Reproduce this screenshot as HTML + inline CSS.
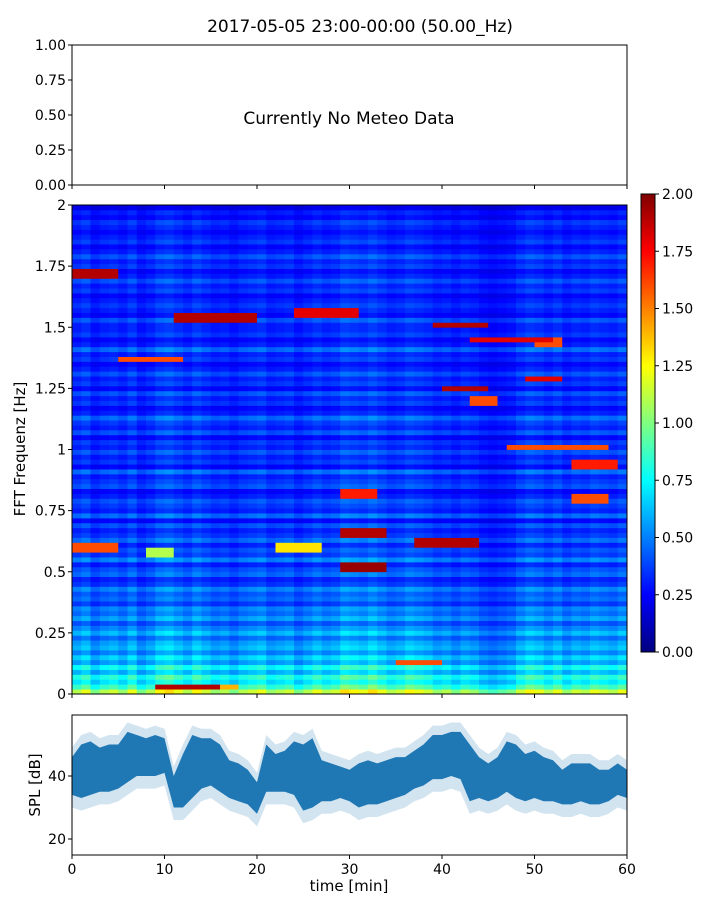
<!DOCTYPE html>
<html><head><meta charset="utf-8"><style>
body{margin:0;background:#fff;}
svg{display:block;font-family:"DejaVu Sans","Liberation Sans",sans-serif;}
</style></head><body>
<svg id="fig" width="720" height="900" viewBox="0 0 720 900">
<text x="360" y="32" font-size="17" text-anchor="middle">2017-05-05 23:00-00:00 (50.00_Hz)</text>
<g id="topG"></g>
<g id="spec"></g>
<g id="cbar"></g>
<g id="spl"></g>
</svg>
<script>
// ---- data ----
const timeTicks = [0,10,20,30,40,50,60];
const meteoTicks = ["0.00","0.25","0.50","0.75","1.00"];
const freqTicks = [0,0.25,0.5,0.75,1,1.25,1.5,1.75,2];
const freqTickLabels = ["0","0.25","0.5","0.75","1","1.25","1.5","1.75","2"];
const cbarTicks = ["0.00","0.25","0.50","0.75","1.00","1.25","1.50","1.75","2.00"];
const splTicks = [20,40];
// per-frequency-row level (0.02 Hz rows, bottom to top)
const rowLevel = [1.1,0.85,0.7,0.8,0.6,0.75,0.55,0.65,0.5,0.6,0.55,0.45,0.6,0.5,0.4,0.55,0.45,0.5,0.35,0.45,
0.4,0.5,0.35,0.3,0.45,0.4,0.3,0.5,0.35,0.4,0.3,0.45,0.35,0.3,0.4,0.25,0.45,0.3,0.35,0.4,
0.3,0.25,0.4,0.35,0.3,0.45,0.25,0.35,0.3,0.4,0.3,0.35,0.25,0.4,0.3,0.35,0.45,0.3,0.25,0.35,
0.3,0.4,0.25,0.35,0.3,0.4,0.3,0.25,0.35,0.3,0.45,0.3,0.25,0.35,0.3,0.3,0.4,0.25,0.3,0.35,
0.3,0.25,0.35,0.3,0.4,0.3,0.25,0.35,0.3,0.4,0.3,0.25,0.35,0.3,0.25,0.3,0.35,0.25,0.3,0.2];
// per-minute column level
const colLevel = [1.0,1.1,0.9,1.0,1.05,0.95,1.1,0.9,1.0,1.15,1.2,1.1,1.0,1.15,1.05,0.95,1.0,0.9,1.0,1.05,
1.1,0.95,1.0,1.05,0.9,1.0,1.1,1.0,1.05,1.2,1.15,1.1,1.2,1.1,1.0,1.05,1.15,1.1,1.05,0.95,
1.0,0.9,1.0,0.95,0.85,0.8,0.85,0.9,1.05,1.15,1.1,1.0,1.1,0.95,1.05,1.0,1.1,1.05,1.0,1.1];
// hotspots: start min, end min, freq Hz, value
const hotT0 = [0,11,24,39,43,50,40,43,49,37,29,29,0,8,9,35,54,47,29,5,54,22,15];
const hotT1 = [5,20,31,45,52,53,45,46,53,44,34,34,5,11,16,40,59,58,33,12,58,27,18];
const hotF  = [1.72,1.54,1.56,1.51,1.45,1.44,1.25,1.2,1.29,0.62,0.66,0.52,0.6,0.58,0.03,0.13,0.94,1.01,0.82,1.37,0.8,0.6,0.03];
const hotV  = [1.9,1.9,1.8,1.9,1.8,1.6,1.9,1.6,1.8,1.9,1.9,1.95,1.6,1.1,1.9,1.6,1.7,1.6,1.7,1.6,1.6,1.3,1.4];
// SPL dense envelope per minute (dB)
const splHi = [46,50,51,49,50,50,54,53,52,53,52,40,47,53,52,52,50,45,44,42,38,50,47,48,51,50,52,45,44,43,42,44,45,44,45,46,46,48,50,53,53,54,54,50,46,44,46,51,50,47,48,46,45,42,44,44,44,42,42,44,42];
const splLo = [34,33,34,35,35,36,38,40,40,40,41,30,30,33,36,37,35,33,32,31,28,35,35,35,34,29,30,32,32,33,32,30,31,31,32,33,34,36,37,39,39,40,39,32,33,32,33,35,33,32,33,32,32,31,31,32,31,31,32,34,33];

const NS='http://www.w3.org/2000/svg';
function mk(tag, attrs, parent){const e=document.createElementNS(NS,tag);for(const k in attrs)e.setAttribute(k,attrs[k]);parent.appendChild(e);return e;}
const L=72,R=627;
const xT = t => L + t*(R-L)/60;
function jet(v){const x=Math.max(0,Math.min(1,v));const c=a=>Math.round(255*Math.max(0,Math.min(1,1.5-Math.abs(4*x-a))));return `rgb(${c(3)},${c(2)},${c(1)})`;}

// ---- top meteo panel ----
const topG=document.getElementById('topG');
const tT=45,tB=185;
const tf=mk('rect',{x:L,y:tT,width:R-L,height:tB-tT,fill:'none',stroke:'#000','stroke-width':1},topG);

meteoTicks.forEach((lab,i)=>{const y=tB-i*(tB-tT)/4;
  mk('line',{x1:L-4,x2:L,y1:y,y2:y,stroke:'#000'},topG);
  const t=mk('text',{x:L-6,y:y+5,'font-size':14,'text-anchor':'end'},topG);t.textContent=lab;
  });
timeTicks.forEach(v=>mk('line',{x1:xT(v),x2:xT(v),y1:tB,y2:tB+4,stroke:'#000'},topG));
const nm=mk('text',{x:349,y:124,'font-size':17,'text-anchor':'middle'},topG);nm.textContent='Currently No Meteo Data';


// ---- spectrogram ----
const spec=document.getElementById('spec');
const sT=205,sB=694;
const yF=f=>sB-f*(sB-sT)/2;
const nR=rowLevel.length,nC=colLevel.length;
for(let c=0;c<nC;c++){for(let r=0;r<nR;r++){
  let v=rowLevel[r]*colLevel[c];
  const f=r*0.02;
  for(let h=0;h<hotF.length;h++){if(c>=hotT0[h]&&c<hotT1[h]&&Math.abs(hotF[h]-(f+0.01))<0.011)v=Math.max(v,hotV[h]);}
  const x0=xT(c),x1=xT(c+1),y0=yF(f+0.02),y1=yF(f);
  const cell=mk('rect',{x:x0,y:y0,width:x1-x0+0.4,height:y1-y0+0.4,fill:jet(v/2)},spec);
  
  
}}
mk('rect',{x:L,y:sT,width:R-L,height:sB-sT,fill:'none',stroke:'#000'},spec);
freqTicks.forEach((f,i)=>{const y=yF(f);
  mk('line',{x1:L-4,x2:L,y1:y,y2:y,stroke:'#000'},spec);
  const t=mk('text',{x:L-6,y:y+5,'font-size':14,'text-anchor':'end'},spec);t.textContent=freqTickLabels[i];
  });
timeTicks.forEach(v=>mk('line',{x1:xT(v),x2:xT(v),y1:sB,y2:sB+4,stroke:'#000'},spec));
const fl=mk('text',{x:0,y:0,'font-size':15,'text-anchor':'middle',transform:'translate(25,449) rotate(-90)'},spec);fl.textContent='FFT Frequenz [Hz]';


// ---- colorbar ----
const cb=document.getElementById('cbar');
const cT=194,cB=652,cL=641,cR=655;
const defs=mk('defs',{},cb);const g=mk('linearGradient',{id:'jetg',x1:0,y1:1,x2:0,y2:0},defs);
for(let i=0;i<=16;i++)mk('stop',{offset:i/16,'stop-color':jet(i/16)},g);
mk('rect',{x:cL,y:cT,width:cR-cL,height:cB-cT,fill:'url(#jetg)',stroke:'#000'},cb);
cbarTicks.forEach((lab,i)=>{const y=cB-i*(cB-cT)/8;
  mk('line',{x1:cR,x2:cR+4,y1:y,y2:y,stroke:'#000'},cb);
  const t=mk('text',{x:cR+7,y:y+5,'font-size':14},cb);t.textContent=lab;
  });

// ---- SPL ----
const spl=document.getElementById('spl');
const pT=715,pB=855;
const yD=d=>776-(d-40)*3.15;
function band(hi,lo,dh,dl,fill,op,name){
  let d='M'+hi.map((v,i)=>xT(i)+','+yD(v+dh)).join('L');
  for(let i=lo.length-1;i>=0;i--)d+='L'+xT(i)+','+yD(lo[i]-dl);
  const p=mk('path',{d:d+'Z',fill:fill,'fill-opacity':op},spl);
  }
band(splHi,splLo,3,4,'#1f77b4',0.2,'spl-faint-band');
band(splHi,splLo,0,0,'#1f77b4',1,'spl-band');
mk('rect',{x:L,y:pT,width:R-L,height:pB-pT,fill:'none',stroke:'#000'},spl);
splTicks.forEach(v=>{const y=yD(v);
  mk('line',{x1:L-4,x2:L,y1:y,y2:y,stroke:'#000'},spl);
  const t=mk('text',{x:L-6,y:y+5,'font-size':14,'text-anchor':'end'},spl);t.textContent=v;
  });
timeTicks.forEach(v=>{mk('line',{x1:xT(v),x2:xT(v),y1:pB,y2:pB+4,stroke:'#000'},spl);
  const t=mk('text',{x:xT(v),y:pB+19,'font-size':14,'text-anchor':'middle'},spl);t.textContent=v;
  });
const sl=mk('text',{x:0,y:0,'font-size':15,'text-anchor':'middle',transform:'translate(40,785) rotate(-90)'},spl);sl.textContent='SPL [dB]';

const xl=mk('text',{x:349,y:891,'font-size':15,'text-anchor':'middle'},spl);xl.textContent='time [min]';

</script>
</body></html>
